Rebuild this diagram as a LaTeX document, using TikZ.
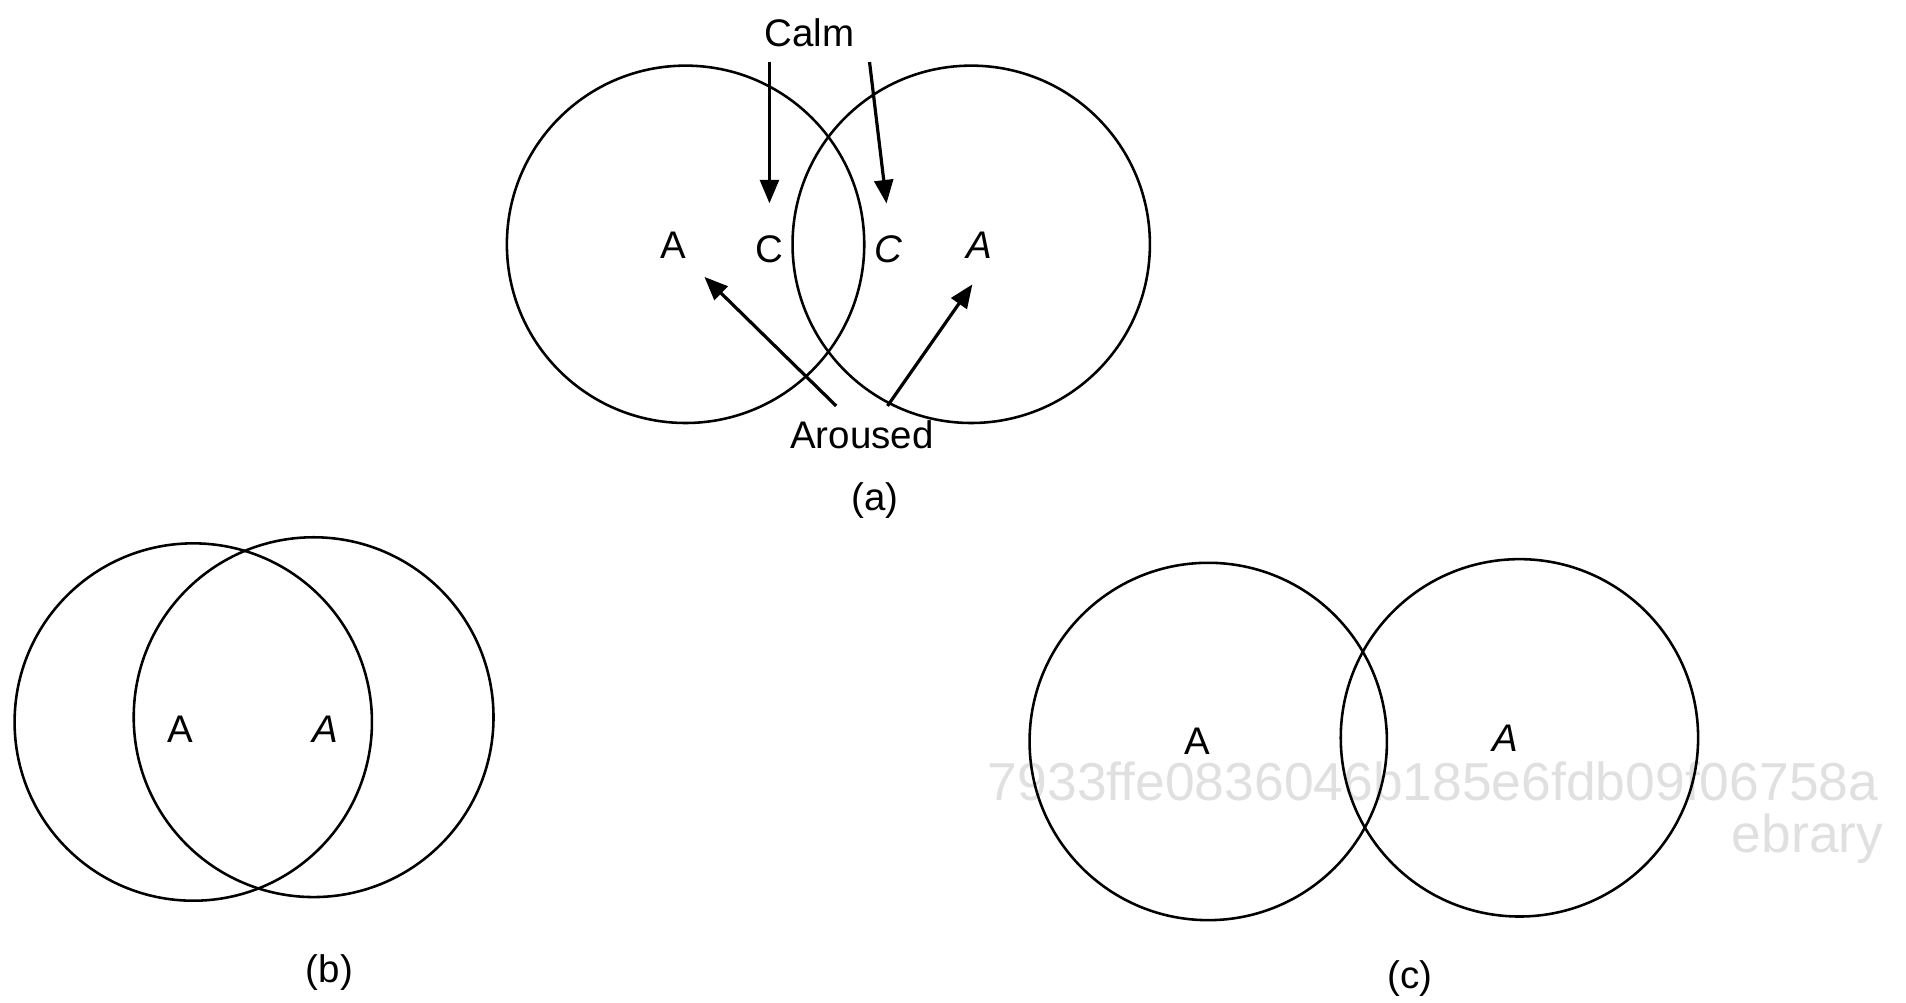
\documentclass[tikz,border=0pt]{standalone}
\usepackage{fontspec}
\setmainfont{Liberation Sans}
\usetikzlibrary{arrows.meta}

\begin{document}
\begin{tikzpicture}[x=0.01cm, y=-0.01cm, font=\fontsize{9}{11}\selectfont,
    set/.style={line width=0.6pt},
    arr/.style={line width=0.75pt, -{Triangle[length=5.5pt,width=4.4pt]}},
    mark-it/.style={font=\fontsize{9}{11}\selectfont\itshape},
    wm/.style={text=black!12, inner sep=0pt, font=\fontsize{12.5}{14}\selectfont}]
  \useasboundingbox (0,0) rectangle (1568,825);

  % watermark behind the circles
  \node[wm] (wm-code) at (1179,643) {7933ffe0836046b185e6fdb09f06758a};
  \node[wm, anchor=east] (wm-lib) at (1550,690) {ebrary};

  % (a)
  \draw[set] (564,201) circle (147);
  \draw[set] (799,201) circle (147);
  \node (a-A-up) at (554,202) {A};
  \node (a-C-up) at (633,205) {C};
  \node[mark-it] (a-C-it) at (731,205) {C};
  \node[mark-it] (a-A-it) at (806,202) {A};
  \node (calm) at (666,27) {Calm};
  \node (aroused) at (709,358) {Aroused};
  \draw[arr, shorten >=4pt] (calm.south -| a-C-up) -- (a-C-up.north);
  \draw[arr, shorten >=4pt] (calm.south east) -- (a-C-it.north);
  \draw[arr, shorten >=1pt] ([xshift=-6pt]aroused.north) -- (a-A-up.south east);
  \draw[arr, shorten >=3pt] ([xshift=6pt]aroused.north) -- (a-A-it.south);
  \node (cap-a) at (720,412) {(a)};

  % (b)
  \draw[set] (159,594) circle (147);
  \draw[set] (258,590) circle (148);
  \node (b-A-up) at (148,600) {A};
  \node[mark-it] (b-A-it) at (268,600) {A};
  \node (cap-b) at (271,800) {(b)};

  % (c)
  \draw[set] (994,610) circle (147);
  \draw[set] (1250,607) circle (147);
  \node[inner sep=1pt] (c-A-up) at (985,610) {A};
  \node[mark-it] (c-A-it) at (1238,607) {A};
  \node (cap-c) at (1160,805) {(c)};
\end{tikzpicture}
\end{document}
